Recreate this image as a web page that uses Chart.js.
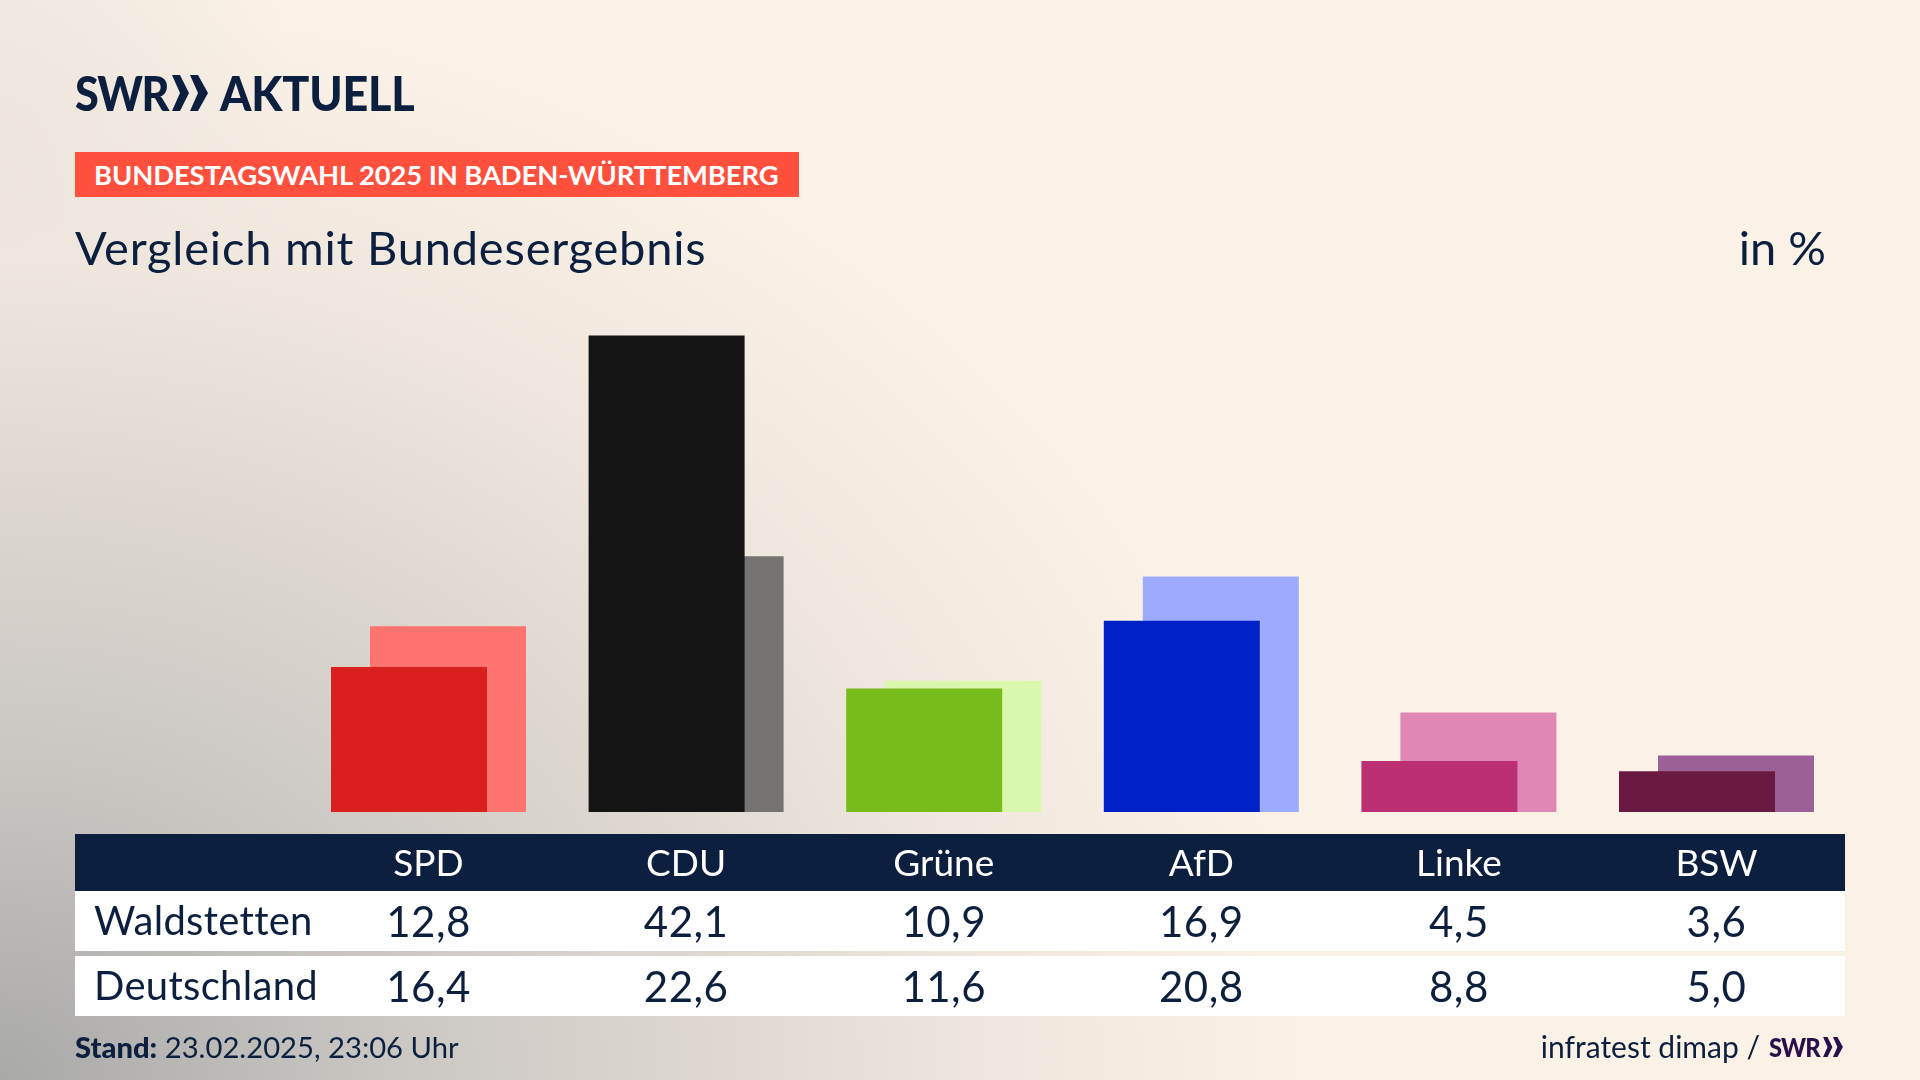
<!DOCTYPE html>
<html lang="de"><head><meta charset="utf-8"><title>Vergleich mit Bundesergebnis</title>
<script src="https://cdn.jsdelivr.net/npm/chart.js@4/dist/chart.umd.min.js"></script>
<style>
html,body{margin:0;padding:0;width:1920px;height:1080px;overflow:hidden;font-family:Lato,sans-serif;color:#0c1f3f}
body{background:
 radial-gradient(ellipse 1300px 1080px at 0px 1080px,#a9a9a8 0%,#cac7c3 30%,#ded8d1 55%,#efe7dd 76%,rgba(250,242,231,0) 100%),
 radial-gradient(ellipse 300px 500px at 0px 200px,#ebe4db 0%,rgba(250,242,231,0) 100%),
 #faf2e7}
.t{position:absolute;white-space:nowrap;line-height:1}
.band{position:absolute;left:75px;width:1770px}
canvas{position:absolute;left:0;top:0}
</style></head><body>
<div class="band" style="top:834px;height:57px;background:#0c1f3f"></div>
<div class="band" style="top:891px;height:60px;background:#fff"></div>
<div class="band" style="top:956px;height:60px;background:#fff"></div>
<canvas id="c" width="1920" height="1080"></canvas>
<div class="t" style="left:75px;top:69px;font-size:48px;font-weight:900;letter-spacing:-1.5px;transform:scaleX(.9);transform-origin:0 0">SWR</div>
<svg style="position:absolute;left:170px;top:74px" width="40" height="38" viewBox="0 0 40 38"><path fill="#0c1f3f" d="M2 1h8l9 18-9 18H2l8-18zM20 1h8l10 18-10 18h-8l8-18z"/></svg>
<div class="t" style="left:220px;top:69px;font-size:48px;font-weight:900;letter-spacing:-.2px;transform:scaleX(.935);transform-origin:0 0">AKTUELL</div>
<div class="t" style="left:75px;top:152px;width:724px;height:45px;background:#ff4f3d"></div>
<div class="t" style="left:94px;top:161px;font-size:27.4px;font-weight:700;color:#fff;letter-spacing:-.1px">BUNDESTAGSWAHL 2025 IN BADEN-WÜRTTEMBERG</div>
<div class="t" style="left:75px;top:224px;font-size:47px;letter-spacing:.8px">Vergleich mit Bundesergebnis</div>
<div class="t" style="right:94px;top:224px;font-size:47px">in %</div>
<div class="t" style="left:75px;top:1032px;font-size:29.2px"><b style="font-weight:900">Stand:</b> 23.02.2025, 23:06 Uhr</div>
<div class="t" style="right:160px;top:1031px;font-size:30px">infratest dimap /</div>
<div class="t" style="left:1769px;top:1033px;font-size:27px;font-weight:900;color:#2a0f4a;letter-spacing:-1px;transform:scaleX(.88);transform-origin:0 0">SWR</div>
<svg style="position:absolute;left:1822px;top:1036px" width="22" height="22" viewBox="0 0 40 38"><path fill="#2a0f4a" d="M2 1h8l9 18-9 18H2l8-18zM20 1h8l10 18-10 18h-8l8-18z"/></svg>
<script>
const parties = ["SPD","CDU","Grüne","AfD","Linke","BSW"];
const regionName = "Waldstetten";
const nationName = "Deutschland";
const regionValues = [12.8,42.1,10.9,16.9,4.5,3.6];
const nationValues = [16.4,22.6,11.6,20.8,8.8,5.0];
const regionColors = ["#d9201e","#141414","#78bc1b","#0021c8","#bc2f73","#6a1a40"];
const nationColors = ["#ff736e","#767472","#daf7ae","#9dabff","#e087b6","#9b6197"];

const chart = new Chart(document.getElementById("c"),{
  type:"bar",
  data:{labels:parties,datasets:[
    {label:regionName,data:regionValues,backgroundColor:regionColors,borderWidth:0},
    {label:nationName,data:nationValues,backgroundColor:nationColors,borderWidth:0}
  ]},
  options:{
    responsive:false,animation:false,devicePixelRatio:1,
    categoryPercentage:0.3028,barPercentage:4,
    layout:{padding:{left:299.7,right:74.7,top:302.6,bottom:0}},
    plugins:{legend:{display:false},tooltip:{enabled:false}},
    scales:{
      x:{grid:{display:false},border:{display:false},
         ticks:{color:"#ffffff",font:{family:"Lato",size:37},padding:22,maxRotation:0,autoSkip:false},
         afterFit(s){s.height=268;}},
      y:{display:false,min:0,max:45}
    }
  }
});
function addRow(name,values,cy){
  const l=document.createElement("div");l.className="t";l.textContent=name;
  l.style.cssText="left:94px;font-size:40px;letter-spacing:.3px;top:"+(cy-21)+"px";document.body.appendChild(l);
  values.forEach((v,i)=>{
    const d=document.createElement("div");d.className="t";d.textContent=v.toFixed(1).replace(".",",");
    d.style.cssText="font-size:42px;letter-spacing:.5px;transform:translateX(-50%);top:"+(cy-21)+"px;left:"+chart.scales.x.getPixelForTick(i)+"px";
    document.body.appendChild(d);
  });
}
addRow(regionName,regionValues,921);
addRow(nationName,nationValues,986);
</script>
</body></html>
